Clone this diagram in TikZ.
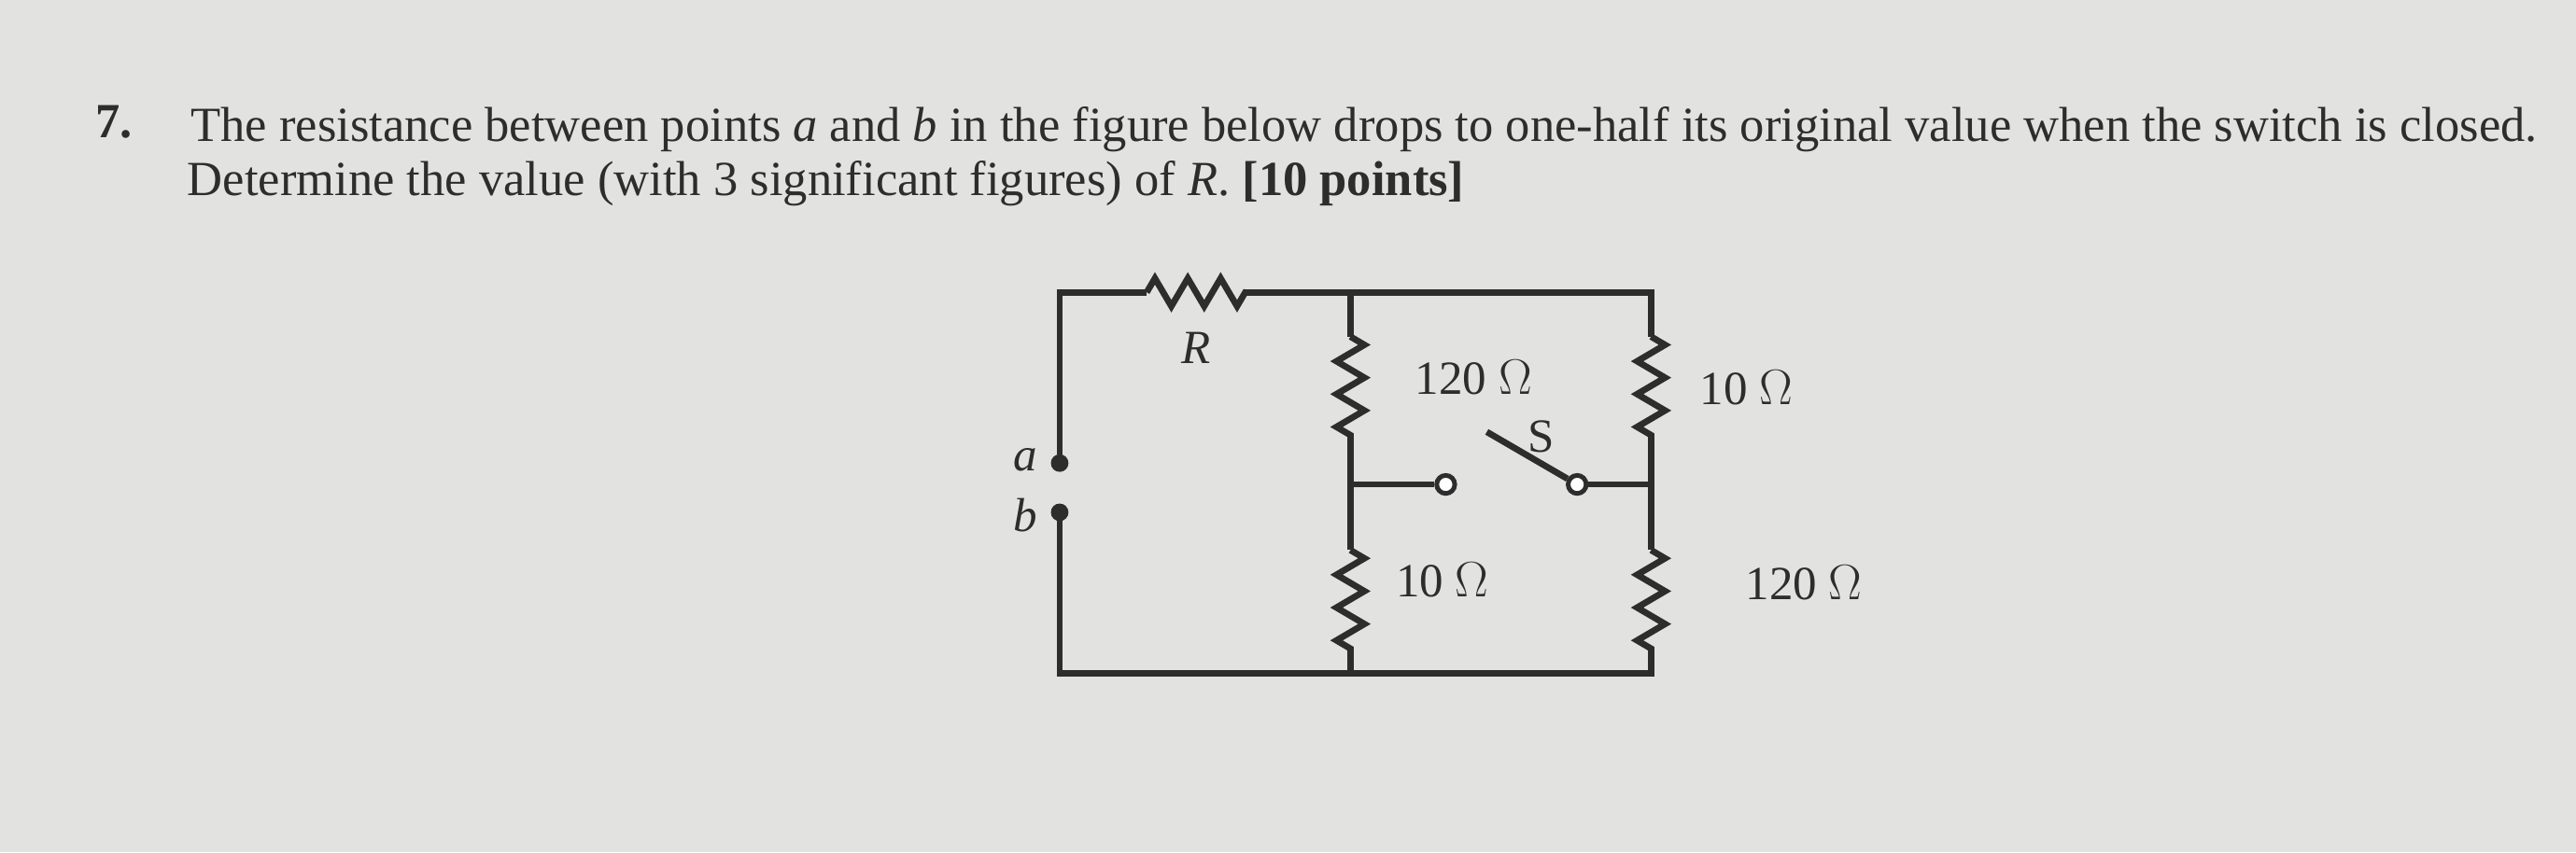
\documentclass[tikz,border=0pt]{standalone}
\usepackage{fontspec}
\setmainfont{Liberation Serif}
\usetikzlibrary{decorations.pathmorphing}
\definecolor{paper}{RGB}{226,226,224}
\definecolor{ink}{RGB}{45,45,45}
\tikzset{
  wire/.style={draw=ink, line width=2.2pt},
  res/.style={wire, decorate, decoration={zigzag, segment length=0.4cm, amplitude=0.17cm}},
  term/.style={circle, draw=ink, fill=ink, inner sep=0pt, minimum size=0.2cm},
  contact/.style={circle, draw=ink, fill=white, line width=1.6pt, inner sep=0pt, minimum size=0.22cm},
  lbl/.style={text=ink, font=\fontsize{16.5}{19}\selectfont}
}
\begin{document}
\begin{tikzpicture}[x=0.02cm, y=-0.02cm]
    \useasboundingbox (0,0) rectangle (1568,519);
    \fill[paper] (0,0) rectangle (1568,519);

        %%question text
        \node[lbl, font=\bfseries\fontsize{17}{20}\selectfont, anchor=base west] (num) at (52,84) {7.};
        \node[lbl, font=\fontsize{17}{20}\selectfont, anchor=base west] (line1) at (110,86)
            {The resistance between points \textit{a} and \textit{b} in the figure below drops to one-half its original value when the switch is closed.};
        \node[lbl, font=\fontsize{17}{20}\selectfont, anchor=base west] (line2) at (108,119)
            {Determine the value (with 3 significant figures) of \textit{R}. \textbf{[10 points]}};

        %%corners and junctions
        \coordinate (tl) at (645,178);
        \coordinate (rin) at (698,178);
        \coordinate (rout) at (758,178);
        \coordinate (tm) at (822,178);
        \coordinate (tr) at (1005,178);
        \coordinate (m1) at (822,205);
        \coordinate (m2) at (822,265);
        \coordinate (mj) at (822,295);
        \coordinate (m3) at (822,335);
        \coordinate (m4) at (822,395);
        \coordinate (bm) at (822,410);
        \coordinate (r1) at (1005,205);
        \coordinate (r2) at (1005,265);
        \coordinate (rj) at (1005,295);
        \coordinate (r3) at (1005,335);
        \coordinate (r4) at (1005,395);
        \coordinate (br) at (1005,410);
        \coordinate (bl) at (645,410);
        \coordinate (blade) at (905,263);

        %%terminals
        \node[term] (ta) at (645,282) {};
            \node[lbl, font=\itshape\fontsize{16.5}{19}\selectfont] (la) at (624,280) {a};
        \node[term] (tb) at (645,312) {};
            \node[lbl, font=\itshape\fontsize{16.5}{19}\selectfont] (lb) at (624,314) {b};
        \node[contact] (sl) at (880,295) {};
        \node[contact] (sr) at (960,295) {};

        %%top loop
        \draw[wire] (ta) -- (tl) -- (rin);
        \draw[res] (rin) -- (rout);
            \node[lbl, font=\itshape\fontsize{16.5}{19}\selectfont] (lR) at (728,212) {R};
        \draw[wire] (rout) -- (tm) -- (tr) -- (r1);
        \draw[wire] (tm) -- (m1);
        \draw[res] (m1) -- (m2);
            \node[lbl] (l120a) at (897,230) {120 $\Omega$};
        \draw[res] (r1) -- (r2);
            \node[lbl] (l10a) at (1063,236) {10 $\Omega$};

        %%switch
        \draw[wire] (m2) -- (m3);
        \draw[wire] (r2) -- (r3);
        \draw[wire] (mj) -- (sl);
        \draw[wire] (sr) -- (rj);
        \draw[wire] (sr) -- (blade);
            \node[lbl] (lS) at (938,266) {S};

        %%bottom loop
        \draw[res] (m3) -- (m4);
            \node[lbl] (l10b) at (878,353) {10 $\Omega$};
        \draw[res] (r3) -- (r4);
            \node[lbl] (l120b) at (1098,355) {120 $\Omega$};
        \draw[wire] (m4) -- (bm);
        \draw[wire] (r4) -- (br) -- (bl) -- (tb);
\end{tikzpicture}
\end{document}
